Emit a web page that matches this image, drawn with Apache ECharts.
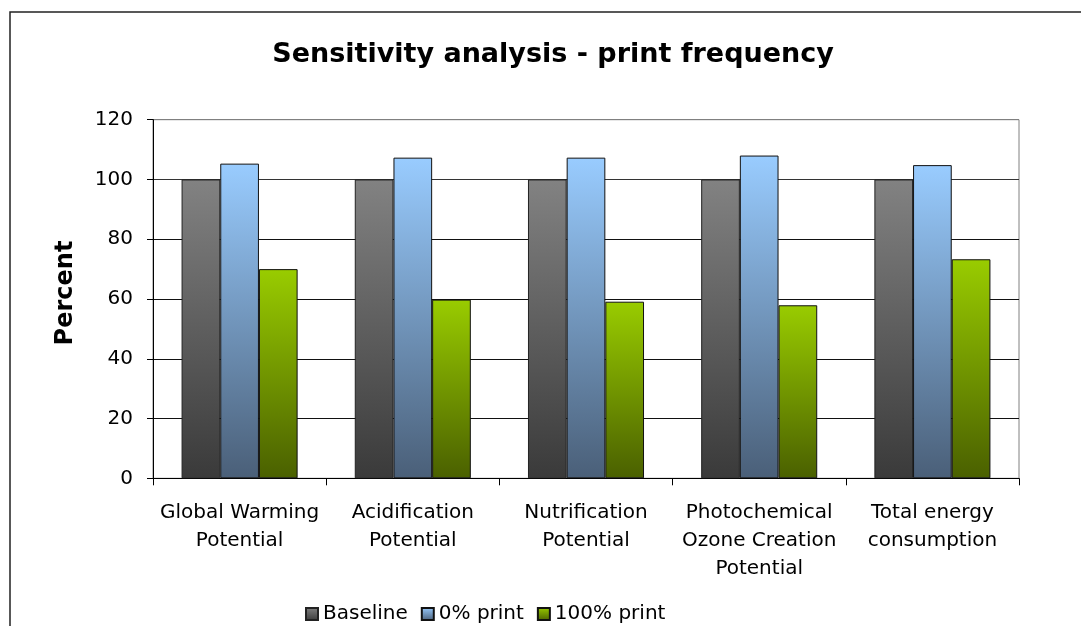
<!DOCTYPE html>
<html>
<head>
<meta charset="utf-8">
<script src="https://cdn.jsdelivr.net/npm/echarts@6/dist/echarts.min.js"></script>
<style>
html,body{margin:0;padding:0;background:#fff;}
#chart{width:1081px;height:626px;}
</style>
</head>
<body>
<div id="chart"></div>
<script>
const categories = ['Global Warming\nPotential', 'Acidification\nPotential', 'Nutrification\nPotential', 'Photochemical\nOzone Creation\nPotential', 'Total energy\nconsumption'];
const baseline = [100, 100, 100, 100, 100];
const print0 = [105.3, 107.3, 107.3, 108.0, 104.8];
const print100 = [70.0, 59.8, 59.1, 57.9, 73.3];
const yTicks = [0, 20, 40, 60, 80, 100, 120];

function grad(top, bottom) {
  return new echarts.graphic.LinearGradient(0, 0, 0, 1, [
    {offset: 0, color: top},
    {offset: 1, color: bottom}
  ]);
}

const chart = echarts.init(document.getElementById('chart'), null, {renderer: 'canvas'});
const font = "'DejaVu Sans', sans-serif";

chart.setOption({
  backgroundColor: '#fff',
  animation: false,
  textStyle: {fontFamily: font},
  title: {
    text: 'Sensitivity analysis - print frequency',
    left: 548,
    top: 36,
    textAlign: 'center',
    textStyle: {fontFamily: font, fontSize: 27, fontWeight: 'bold', color: '#000'}
  },
  graphic: [{
    type: 'rect',
    shape: {x: 10, y: 12, width: 1200, height: 800},
    style: {fill: 'none', stroke: '#222', lineWidth: 1.5},
    silent: true,
    z: 100
  }],
  legend: {
    left: 300,
    top: 599,
    itemWidth: 12,
    itemHeight: 12,
    itemGap: 13,
    icon: 'rect',
    textStyle: {fontFamily: font, fontSize: 20, color: '#000'},
    data: ['Baseline', '0% print', '100% print']
  },
  grid: {
    left: 153,
    right: 62,
    top: 119.7,
    bottom: 147.7,
    show: true,
    borderColor: '#808080',
    borderWidth: 1,
    backgroundColor: 'transparent'
  },
  xAxis: {
    type: 'category',
    data: categories,
    axisLine: {lineStyle: {color: '#000', width: 1}},
    axisTick: {show: true, length: 7, lineStyle: {color: '#000'}},
    axisLabel: {fontFamily: font, fontSize: 20, lineHeight: 28, color: '#000', margin: 20, interval: 0}
  },
  yAxis: {
    type: 'value',
    min: yTicks[0],
    max: yTicks[yTicks.length - 1],
    interval: 20,
    name: 'Percent',
    nameLocation: 'middle',
    nameGap: 75,
    nameTextStyle: {fontFamily: font, fontSize: 24, fontWeight: 'bold', color: '#000', padding: [0, 0, 0, 12]},
    axisLine: {show: true, lineStyle: {color: '#000', width: 1}},
    axisTick: {show: true, length: 6, lineStyle: {color: '#000'}},
    axisLabel: {fontFamily: font, fontSize: 20, color: '#000', margin: 20},
    splitLine: {show: true, lineStyle: {color: ['#000', '#111', '#111', '#111', '#111', '#333', '#808080'], width: 1}}
  },
  series: [
    {
      name: 'Baseline', type: 'bar', data: baseline,
      barGap: '0%', barCategoryGap: '33%',
      itemStyle: {color: grad('#828282', '#3a3a3a'), borderColor: '#222', borderWidth: 1}
    },
    {
      name: '0% print', type: 'bar', data: print0,
      itemStyle: {color: grad('#99ccff', '#4a5f78'), borderColor: '#111', borderWidth: 1}
    },
    {
      name: '100% print', type: 'bar', data: print100,
      itemStyle: {color: grad('#99cc00', '#4a6000'), borderColor: '#111', borderWidth: 1}
    }
  ]
});
</script>
</body>
</html>
